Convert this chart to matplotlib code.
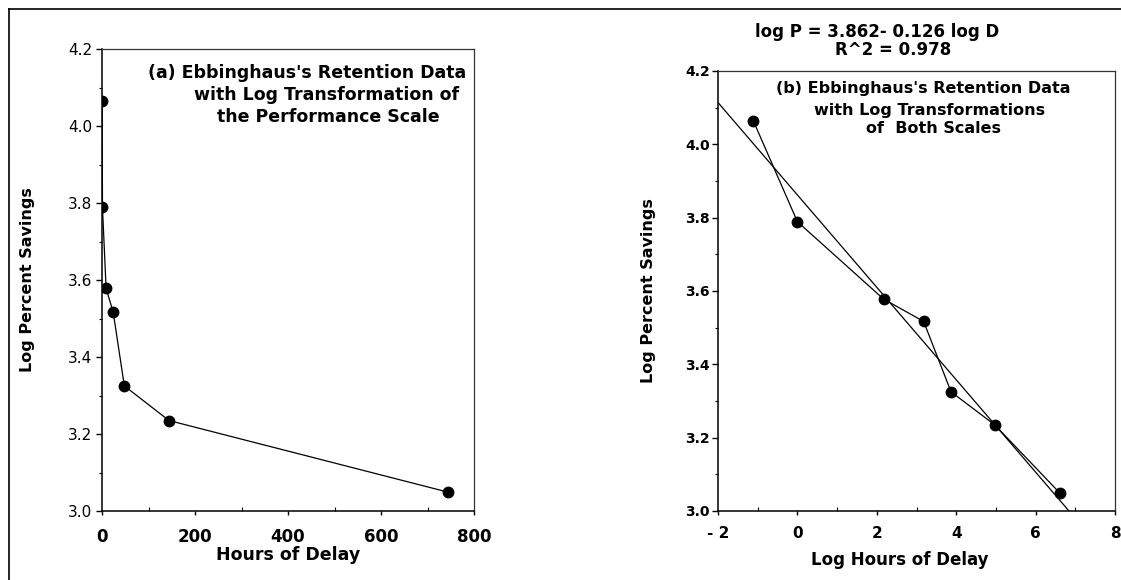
import matplotlib
matplotlib.use("Agg")
import matplotlib.pyplot as plt
import numpy as np
from matplotlib.lines import Line2D
from matplotlib.ticker import MultipleLocator, FixedLocator, FixedFormatter

# ---- data ----
hours = [0.33, 1.0, 8.8, 24.0, 48.0, 144.0, 744.0]
log_savings = [4.064, 3.789, 3.578, 3.517, 3.325, 3.235, 3.049]
log_hours = [-1.11, 0.0, 2.17, 3.18, 3.87, 4.97, 6.61]
fit_intercept = 3.862
fit_slope = -0.126
r_squared = 0.978
left_xticks = [0, 200, 400, 600, 800]
right_xticks = [-2, 0, 2, 4, 6, 8]
right_xticklabels = ["- 2", "0", "2", "4", "6", "8"]
yticks = [3.0, 3.2, 3.4, 3.6, 3.8, 4.0, 4.2]

W, H = 1121, 580
fig = plt.figure(figsize=(W / 100, H / 100), dpi=100)
plt.rcParams['font.family'] = ['DejaVu Sans']

def fx(px):
    return px / W

def fy(py):
    return 1 - py / H

# figure frame (top and left lines)
fig.add_artist(Line2D([fx(9), fx(9)], [fy(9), 0], color='black', lw=1.2))
fig.add_artist(Line2D([fx(9), 1], [fy(9), fy(9)], color='black', lw=1.2))

axL = fig.add_axes([fx(102), fy(511), fx(474) - fx(102), fy(49) - fy(511)])
axR = fig.add_axes([fx(718), fy(511), fx(1115) - fx(718), fy(71) - fy(511)])

for ax in (axL, axR):
    for s in ('left', 'bottom'):
        ax.spines[s].set_linewidth(1.1)
    for s in ('top', 'right'):
        ax.spines[s].set_linewidth(0.9)
        ax.spines[s].set_color('#333333')
    ax.set_ylim(3.0, 4.2)
    ax.yaxis.set_major_locator(FixedLocator(yticks))
    ax.yaxis.set_minor_locator(MultipleLocator(0.1))
    ax.tick_params(axis='y', which='major', direction='out', length=4, width=1)
    ax.tick_params(axis='y', which='minor', direction='out', length=2, width=0.8)
    ax.tick_params(axis='x', which='major', direction='out', length=3, width=1)
    ax.tick_params(axis='x', which='minor', direction='in', length=3, width=0.8)

# ---- left panel ----
axL.plot(hours, log_savings, color='black', lw=0.9, marker='o', ms=7.5,
         mfc='black', mec='black')
axL.set_xlim(0, 800)
axL.xaxis.set_major_locator(FixedLocator(left_xticks))
axL.xaxis.set_minor_locator(MultipleLocator(100))
axL.set_yticklabels([f"{v:.1f}" for v in yticks], fontsize=11)
axL.set_xticklabels([str(v) for v in left_xticks], fontsize=12, fontweight='bold')
axL.tick_params(axis='x', which='major', pad=9)
axL.tick_params(axis='y', which='major', pad=3)
axL.set_xlabel("Hours of Delay", fontsize=12.5, fontweight='bold', va='center')
axL.xaxis.set_label_coords(0.5, (511 - 555) / 462)
axL.set_ylabel("Log Percent Savings", fontsize=11.5, fontweight='bold', va='center')
axL.yaxis.set_label_coords((28 - 102) / 372, 0.5)

for txt, cx, cy in [("(a) Ebbinghaus's Retention Data", 307, 73),
                    ("with Log Transformation of", 327, 95),
                    ("the Performance Scale", 328, 117)]:
    fig.text(fx(cx), fy(cy), txt, ha='center', va='center', fontsize=12.5,
             fontweight='bold')

# ---- right panel ----
axR.set_xlim(-2, 8)
fit_x = np.array([right_xticks[0], right_xticks[-1]], dtype=float)
axR.plot(fit_x, fit_intercept + fit_slope * fit_x, color='black', lw=0.9)
axR.plot(log_hours, log_savings, color='black', lw=0.9, marker='o', ms=7.5,
         mfc='black', mec='black')
axR.xaxis.set_major_locator(FixedLocator(right_xticks))
axR.xaxis.set_major_formatter(FixedFormatter(right_xticklabels))
axR.xaxis.set_minor_locator(MultipleLocator(1))
axR.set_yticklabels([f"{v:.1f}" for v in yticks], fontsize=10, fontweight='bold')
for lab in axR.get_xticklabels():
    lab.set_fontsize(11)
    lab.set_fontweight('bold')
axR.tick_params(axis='x', which='major', pad=8)
axR.tick_params(axis='y', which='major', pad=2)
axR.set_xlabel("Log Hours of Delay", fontsize=12, fontweight='bold', va='center')
axR.xaxis.set_label_coords((900 - 718) / 397, (511 - 560) / 440)
axR.set_ylabel("Log Percent Savings", fontsize=11.5, fontweight='bold', va='center')
axR.yaxis.set_label_coords((648 - 718) / 397, 0.5)

for txt, cx, cy in [("(b) Ebbinghaus's Retention Data", 923, 89),
                    ("with Log Transformations", 930, 110),
                    ("of  Both Scales", 934, 129)]:
    fig.text(fx(cx), fy(cy), txt, ha='center', va='center', fontsize=11.5,
             fontweight='bold')

fig.text(fx(877), fy(32), f"log P = {fit_intercept:.3f}- {abs(fit_slope):.3f} log D",
         ha='center', va='center', fontsize=12, fontweight='bold')
fig.text(fx(893), fy(50), f"R^2 = {r_squared:.3f}",
         ha='center', va='center', fontsize=12, fontweight='bold')

fig.savefig("out.png", dpi=100, facecolor='white')
